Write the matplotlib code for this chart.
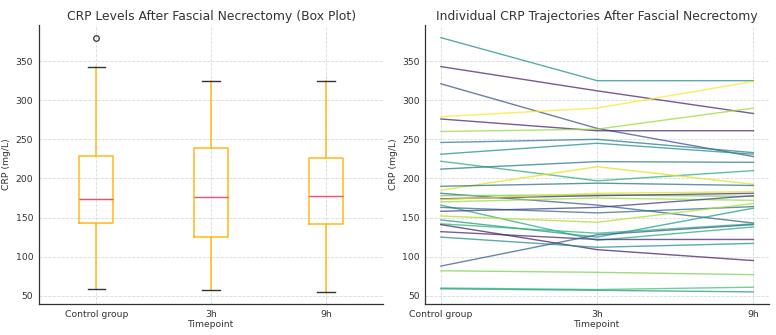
import matplotlib
matplotlib.use("Agg")
import matplotlib.pyplot as plt
import numpy as np

timepoints = ["Control group", "3h", "9h"]

# CRP (mg/L) per patient at each timepoint
crp_control = [380, 343, 321, 279, 276, 260, 246, 231, 222, 212, 185, 190, 181, 178, 174,
               173, 170, 166, 163, 158, 152, 147, 142, 141, 132, 125, 88, 82, 60, 59]
crp_3h = [325, 312, 264, 290, 261, 263, 250, 245, 197, 221.5, 215, 194, 166, 179, 178,
          181, 175, 121, 156, 163, 144, 125, 130, 109, 122, 112, 128, 80, 58, 57]
crp_9h = [325, 283, 228, 324, 261, 290, 233, 231, 210, 220.6, 192.5, 191, 143, 177, 181,
          183, 172, 138, 164, 178, 168, 162, 142, 95, 122, 117, 141, 77, 61, 55]
# colour position in viridis for each patient line
line_shade = [0.5, 0.1, 0.25, 1.0, 0.1, 0.85, 0.42, 0.5, 0.62, 0.4, 0.95, 0.38, 0.3, 0.78, 0.12,
              0.95, 0.85, 0.62, 0.35, 0.18, 0.88, 0.55, 0.65, 0.08, 0.12, 0.5, 0.3, 0.8, 0.7, 0.55]

txt = "#333333"
plt.rcParams['font.family'] = ['DejaVu Sans']
plt.rcParams['text.color'] = txt
plt.rcParams['axes.labelcolor'] = txt
plt.rcParams['xtick.color'] = txt
plt.rcParams['ytick.color'] = txt

fig = plt.figure(figsize=(7.76, 3.35), dpi=100)
ax1 = fig.add_axes([0.050, 0.0925, 0.444, 0.8325])
ax2 = fig.add_axes([0.548, 0.0925, 0.443, 0.8325])

# box plot
data = [crp_control, crp_3h, crp_9h]
ax1.boxplot(data, positions=[1, 2, 3], widths=0.3,
            boxprops=dict(color="#FFB81C", linewidth=1.1),
            whiskerprops=dict(color="#FFB81C", linewidth=1.1),
            capprops=dict(color="#333333", linewidth=1.0),
            medianprops=dict(color="#F0506E", linewidth=1.0),
            flierprops=dict(marker="o", markerfacecolor="none", markeredgecolor="#333333",
                            markersize=4, markeredgewidth=0.9))
ax1.set_xticks([1, 2, 3])
ax1.set_xticklabels(timepoints)
ax1.set_title("CRP Levels After Fascial Necrectomy (Box Plot)", fontsize=8.9, color=txt, pad=4)

# trajectories
x = np.arange(len(timepoints))
cmap = plt.cm.viridis
for i in range(len(crp_control)):
    ax2.plot(x, [crp_control[i], crp_3h[i], crp_9h[i]], color=cmap(line_shade[i]),
             alpha=0.75, linewidth=1.0)
ax2.set_xticks(x)
ax2.set_xticklabels(timepoints)
ax2.set_title("Individual CRP Trajectories After Fascial Necrectomy", fontsize=8.9, color=txt, pad=4)

for ax in (ax1, ax2):
    ax.set_ylim(39.5, 396)
    ax.set_yticks([50, 100, 150, 200, 250, 300, 350])
    ax.set_xlabel("Timepoint", fontsize=6.6, labelpad=1)
    ax.set_ylabel("CRP (mg/L)", fontsize=6.7, labelpad=3)
    ax.tick_params(labelsize=6.7, length=0, pad=4)
    ax.grid(True, linestyle="--", color="#d9d9d9", linewidth=0.6)
    ax.set_axisbelow(True)
    for s in ("top", "right"):
        ax.spines[s].set_visible(False)
    for s in ("left", "bottom"):
        ax.spines[s].set_color("#333333")
        ax.spines[s].set_linewidth(0.9)

fig.savefig("out.png", dpi=100)
